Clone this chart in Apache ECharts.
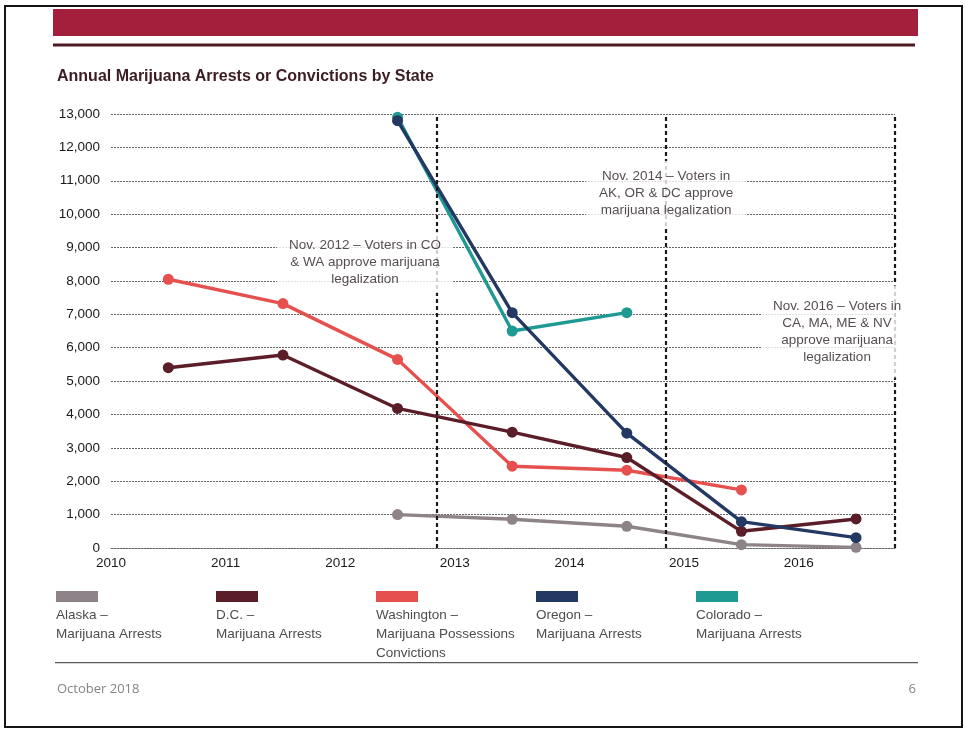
<!DOCTYPE html>
<html>
<head>
<meta charset="utf-8">
<script src="https://cdn.jsdelivr.net/npm/echarts@6/dist/echarts.min.js"></script>
<style>
  html, body { margin: 0; padding: 0; background: #fff; }
  #chart { width: 965px; height: 730px; }
</style>
</head>
<body>
<div id="chart"></div>
<script>
// Annual counts, plotted at mid-year
const years = [2010.5, 2011.5, 2012.5, 2013.5, 2014.5, 2015.5, 2016.5];
const alaska     = [null, null, 1000, 860, 650, 100, 20];
const dc         = [5400, 5780, 4180, 3470, 2710, 500, 870];
const washington = [8050, 7320, 5650, 2450, 2330, 1740, null];
const oregon     = [null, null, 12800, 7050, 3440, 790, 310];
const colorado   = [null, null, 12900, 6500, 7050, null, null];

const seriesNames = ['Alaska', 'D.C.', 'Washington', 'Oregon', 'Colorado'];
const legendTexts = [
  'Alaska –\nMarijuana Arrests',
  'D.C. –\nMarijuana Arrests',
  'Washington –\nMarijuana Possessions\nConvictions',
  'Oregon –\nMarijuana Arrests',
  'Colorado –\nMarijuana Arrests'
];
const seriesValues = [alaska, dc, washington, oregon, colorado];
const colors = ['#8d8388', '#5b1e28', '#e6514f', '#233862', '#1f9a93'];

// Axis ranges
const xMin = 2010, xMax = 2016.84, xStep = 1;
const yMin = 0, yMax = 13000, yStep = 1000;

// Election dates (November of each year)
const electionDates = [2012.84, 2014.84, 2016.84];

// Election notes: anchor year, anchor value, text
const noteYears  = [2012.216, 2014.843, 2016.335];
const noteValues = [8553, 10620, 6486];
const noteTexts  = [
  'Nov. 2012 – Voters in CO\n& WA approve marijuana\nlegalization',
  'Nov. 2014 – Voters in\nAK, OR & DC approve\nmarijuana legalization',
  'Nov. 2016 – Voters in\nCA, MA, ME & NV\napprove marijuana\nlegalization'
];
const notePadding = [[5, 12], [7, 13], [12, 12]];

const FONT = '"Liberation Sans", Arial, sans-serif';

const lineSeries = seriesNames.map((name, i) => ({
  name: name,
  type: 'line',
  z: 2,
  data: years.map((y, k) => [y, seriesValues[i][k]]).filter(p => p[1] !== null),
  symbol: 'circle',
  symbolSize: 11,
  lineStyle: { color: colors[i], width: 3.4 },
  itemStyle: { color: colors[i] },
  emphasis: { disabled: true }
}));

// draw Colorado beneath Oregon
const ordered = [lineSeries[4], lineSeries[0], lineSeries[2], lineSeries[1], lineSeries[3]];

const electionSeries = {
  name: 'elections',
  type: 'line',
  data: [],
  z: 3,
  markLine: {
    silent: true,
    symbol: ['none', 'none'],
    label: { show: false },
    lineStyle: { color: '#1e1718', width: 2.2, type: [4, 3] },
    data: electionDates.map(d => ({ xAxis: d }))
  }
};

const noteSeries = {
  name: 'notes',
  type: 'scatter',
  z: 10,
  symbolSize: 1,
  itemStyle: { color: 'rgba(0,0,0,0)' },
  silent: true,
  data: noteYears.map((x, i) => ({
    value: [x, noteValues[i]],
    label: {
      show: true,
      position: 'inside',
      formatter: noteTexts[i],
      backgroundColor: '#ffffff',
      padding: notePadding[i],
      lineHeight: 17,
      fontSize: 13.5,
      fontFamily: FONT,
      color: '#2c2022',
      align: 'center'
    }
  }))
};

// Page frame, banner, legend and footer
const graphics = [
  { type: 'rect', shape: { x: 5, y: 6, width: 957, height: 721 },
    style: { fill: 'none', stroke: '#151515', lineWidth: 2 } },
  { type: 'rect', shape: { x: 53, y: 9, width: 865, height: 27 },
    style: { fill: '#a41f3c' } },
  { type: 'rect', shape: { x: 53, y: 43.5, width: 862, height: 3 },
    style: { fill: '#4b1a22' } },
  { type: 'rect', shape: { x: 55, y: 662, width: 863, height: 1.2 },
    style: { fill: '#5a5a5a' } },
  { type: 'text', x: 57, y: 689,
    style: { text: 'October 2018', fill: '#858585', font: '13px "Open Sans", sans-serif',
             textVerticalAlign: 'middle' } },
  { type: 'text', x: 916, y: 689,
    style: { text: '6', fill: '#858585', font: '13px "Open Sans", sans-serif',
             textAlign: 'right', textVerticalAlign: 'middle' } }
];
seriesNames.forEach((name, i) => {
  const left = 56 + 160 * i;
  graphics.push({ type: 'rect', shape: { x: left, y: 591, width: 42, height: 11 },
                  style: { fill: colors[i] } });
  graphics.push({ type: 'text', x: left, y: 606,
                  style: { text: legendTexts[i], fill: '#4d4d4d',
                           font: '13.5px ' + FONT, lineHeight: 19,
                           textVerticalAlign: 'top' } });
});

const chart = echarts.init(document.getElementById('chart'), null, { renderer: 'canvas' });
chart.setOption({
  animation: false,
  backgroundColor: '#ffffff',
  title: {
    text: 'Annual Marijuana Arrests or Convictions by State',
    left: 52, top: 64,
    textStyle: { fontFamily: FONT, fontSize: 16, fontWeight: 'bold', color: '#3b1d23' }
  },
  grid: { left: 111, right: 70, top: 114, bottom: 182 },
  xAxis: {
    type: 'value',
    min: xMin, max: xMax, interval: xStep,
    axisLine: { show: true, lineStyle: { color: '#666', width: 1, type: [2, 1] } },
    axisTick: { show: false },
    splitLine: { show: false },
    axisLabel: {
      margin: 8,
      color: '#1a1a1a', fontSize: 13.5, fontFamily: FONT,
      showMaxLabel: false,
      formatter: v => (Math.abs(v - Math.round(v)) < 1e-6 ? String(Math.round(v)) : '')
    }
  },
  yAxis: {
    type: 'value',
    min: yMin, max: yMax, interval: yStep,
    axisLine: { show: false },
    axisTick: { show: false },
    splitLine: { show: true, lineStyle: { color: '#666', width: 1, type: [2, 1] } },
    axisLabel: {
      margin: 11,
      color: '#1a1a1a', fontSize: 13.5, fontFamily: FONT,
      formatter: v => v.toLocaleString('en-US')
    }
  },
  graphic: graphics,
  series: [...ordered, electionSeries, noteSeries]
});
</script>
</body>
</html>
